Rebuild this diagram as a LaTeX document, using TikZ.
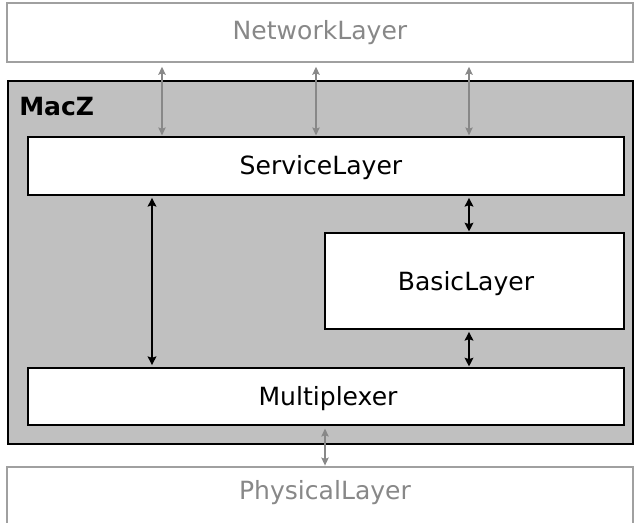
\documentclass[tikz,border=0pt]{standalone}
\usepackage{fontspec}
\setmainfont{DejaVu Sans}
\usetikzlibrary{arrows.meta}
\definecolor{macfill}{HTML}{C0C0C0}
\definecolor{outer}{HTML}{888888}
\tikzset{
  px/.style={x=0.75pt,y=-0.75pt},
  lbl/.style={font=\fontsize{18.8}{20}\selectfont},
  box/.style={draw=black,line width=1.3pt,fill=white,inner sep=0pt,lbl},
  extbox/.style={draw=outer!80,line width=1.1pt,fill=white,inner sep=0pt,text=outer,lbl},
  link/.style={line width=1.3pt,{Stealth[length=6.5pt,width=6.5pt,inset=1pt]}-{Stealth[length=6.5pt,width=6.5pt,inset=1pt]}},
  extlink/.style={line width=1.1pt,draw=outer,{Stealth[length=6pt,width=5.5pt,inset=1pt]}-{Stealth[length=6pt,width=5.5pt,inset=1pt]}}
}
\begin{document}
\begin{tikzpicture}[px]
\useasboundingbox (0,0) rectangle (634,523);
\clip (0,0) rectangle (634,523);
% external layers
\node[extbox,minimum width=469.5pt,minimum height=44.25pt] (net) at (320,32.5) {NetworkLayer};
\node[extbox,minimum width=469.5pt,minimum height=69.75pt] (phy) at (320,513.5) {};
\node[text=outer,lbl,inner sep=0pt] (phytext) at (325,493) {PhysicalLayer};
% MacZ container
\node[draw=black,line width=1.3pt,fill=macfill,inner sep=0pt,minimum width=468.75pt,minimum height=272.25pt] (mac) at (320.5,262.5) {};
\node[anchor=north west,font=\fontsize{18.8}{20}\selectfont\bfseries,inner sep=0pt] (macz) at (19,97) {MacZ};
% internal components
\node[box,minimum width=447pt,minimum height=43.5pt] (service) at (326,166) {};
\node[lbl,inner sep=0pt] at (321,168) {ServiceLayer};
\node[box,minimum width=224.25pt,minimum height=72pt] (basic) at (474.5,281) {};
\node[lbl,inner sep=0pt] at (466,284) {BasicLayer};
\node[box,minimum width=447pt,minimum height=42.75pt] (mux) at (326,396.5) {};
\node[lbl,inner sep=0pt] at (328,399) {Multiplexer};
% connections to the network layer
\foreach \xx in {162,316,469}
  \draw[extlink,shorten <=3pt,shorten >=0.5pt] (net.south -| \xx,0) -- (service.north -| \xx,0);
% internal connections
\draw[link,shorten <=1.5pt,shorten >=1.5pt] (service.south -| 152,0) -- (mux.north -| 152,0);
\draw[link,shorten <=1.5pt,shorten >=0.5pt] (service.south -| 469,0) -- (basic.north -| 469,0);
\draw[link,shorten <=1.5pt,shorten >=0.5pt] (basic.south -| 469,0) -- (mux.north -| 469,0);
% connection to the physical layer
\draw[extlink,shorten <=2pt,shorten >=0.5pt] (mux.south -| 325,0) -- (phy.north -| 325,0);
\end{tikzpicture}
\end{document}
